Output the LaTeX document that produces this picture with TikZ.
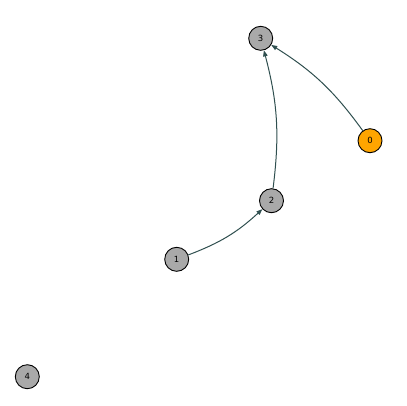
\documentclass[tikz,border=0pt]{standalone}
\usepackage{fontspec}
\setmainfont{DejaVu Sans}
\usetikzlibrary{arrows.meta}
\definecolor{nodegray}{HTML}{A9A9A9}
\definecolor{nodeorange}{HTML}{FFA500}
\definecolor{edgecol}{HTML}{2F4F4F}
\begin{document}
\begin{tikzpicture}[x=1pt,y=-1pt,
  vert/.style={circle,draw=black,line width=0.9pt,fill=nodegray,minimum size=24pt,inner sep=0pt,font=\fontsize{8.5}{8.5}\selectfont},
  edge/.style={draw=edgecol,line width=1pt,-{Triangle[length=6pt,width=4.5pt]},bend right=11}]
\useasboundingbox (0,0) rectangle (407,405);
\node[vert] (n3) at (260.7,38.3) {3};
\node[vert,fill=nodeorange] (n0) at (370,140.7) {0};
\node[vert] (n2) at (271.5,200.7) {2};
\node[vert] (n1) at (176.7,259.3) {1};
\node[vert] (n4) at (27.3,376.7) {4};
\draw[edge] (n0) to (n3);
\draw[edge] (n2) to (n3);
\draw[edge] (n1) to (n2);
\end{tikzpicture}
\end{document}
